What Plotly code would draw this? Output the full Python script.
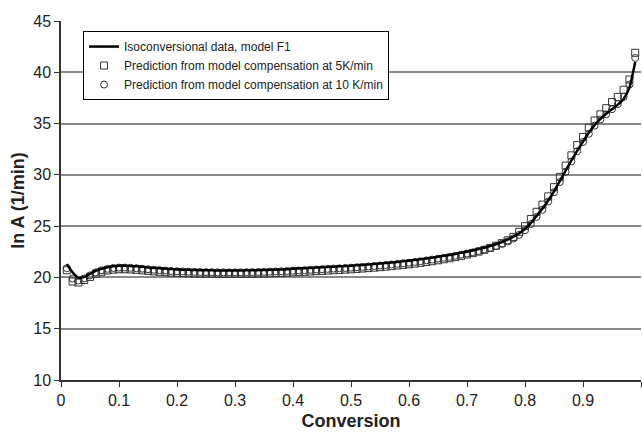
import plotly.graph_objects as go

conversion = [round(0.01 * i, 2) for i in range(1, 100)]

iso_f1 = [21.3, 20.5, 19.95, 20.05, 20.35, 20.65, 20.85, 21.0, 21.1, 21.15,
          21.15, 21.12, 21.08, 21.03, 20.98, 20.93, 20.89, 20.85, 20.81, 20.78,
          20.76, 20.74, 20.72, 20.71, 20.70, 20.69, 20.68, 20.68, 20.68, 20.68,
          20.68, 20.69, 20.70, 20.71, 20.72, 20.74, 20.76, 20.78, 20.80, 20.85,
          20.87, 20.9, 20.93, 20.96, 20.99, 21.02, 21.05, 21.08, 21.11, 21.14,
          21.18, 21.22, 21.26, 21.30, 21.35, 21.40, 21.45, 21.51, 21.57, 21.63,
          21.70, 21.77, 21.85, 21.93, 22.01, 22.10, 22.19, 22.29, 22.40, 22.51,
          22.63, 22.76, 22.90, 23.06, 23.24, 23.45, 23.69, 23.97, 24.30, 24.75,
          25.3, 26.0, 26.7, 27.5, 28.4, 29.4, 30.4, 31.4, 32.35, 33.25,
          34.1, 34.85, 35.45, 35.95, 36.4, 36.85, 37.4, 38.5, 41.0]

pred_5k = [20.7, 19.6, 19.5, 19.75, 20.05, 20.35, 20.55, 20.68, 20.76, 20.8,
           20.8, 20.78, 20.74, 20.69, 20.64, 20.59, 20.55, 20.51, 20.47, 20.44,
           20.42, 20.40, 20.38, 20.37, 20.36, 20.35, 20.34, 20.34, 20.34, 20.34,
           20.34, 20.35, 20.36, 20.37, 20.38, 20.40, 20.42, 20.44, 20.47, 20.50,
           20.52, 20.55, 20.58, 20.61, 20.64, 20.67, 20.70, 20.73, 20.76, 20.79,
           20.83, 20.87, 20.91, 20.95, 21.00, 21.05, 21.10, 21.16, 21.22, 21.28,
           21.35, 21.42, 21.50, 21.58, 21.67, 21.77, 21.87, 21.98, 22.10, 22.23,
           22.37, 22.52, 22.69, 22.88, 23.09, 23.34, 23.62, 23.95, 24.45, 25.0,
           25.7, 26.4, 27.1, 27.9, 28.8, 29.8, 30.9, 31.9, 32.9, 33.7,
           34.6, 35.3, 35.9, 36.5, 37.1, 37.6, 38.3, 39.3, 41.9]

pred_10k = [20.9, 19.9, 19.7, 19.9, 20.2, 20.5, 20.7, 20.84, 20.92, 20.96,
            20.96, 20.94, 20.9, 20.85, 20.8, 20.75, 20.71, 20.67, 20.63, 20.6,
            20.58, 20.56, 20.54, 20.53, 20.52, 20.51, 20.5, 20.5, 20.5, 20.5,
            20.5, 20.51, 20.52, 20.53, 20.54, 20.56, 20.58, 20.6, 20.63, 20.66,
            20.68, 20.71, 20.74, 20.77, 20.8, 20.83, 20.86, 20.89, 20.92, 20.95,
            20.99, 21.03, 21.07, 21.11, 21.16, 21.21, 21.26, 21.32, 21.38, 21.44,
            21.51, 21.58, 21.66, 21.74, 21.83, 21.92, 22.01, 22.11, 22.22, 22.33,
            22.45, 22.58, 22.72, 22.88, 23.06, 23.27, 23.51, 23.8, 24.15, 24.6,
            25.2, 25.9, 26.6, 27.4, 28.3, 29.3, 30.3, 31.3, 32.3, 33.2,
            34.0, 34.8, 35.4, 35.9, 36.4, 36.9, 37.6, 38.8, 41.4]

x_ticks = [0, 0.1, 0.2, 0.3, 0.4, 0.5, 0.6, 0.7, 0.8, 0.9, 1]
x_tick_labels = ["0", "0.1", "0.2", "0.3", "0.4", "0.5", "0.6", "0.7", "0.8", "0.9", "1"]
y_ticks = [10, 15, 20, 25, 30, 35, 40, 45]

fig = go.Figure()
fig.add_trace(go.Scatter(
    x=conversion, y=pred_5k, mode="markers",
    name="Prediction from model compensation at 5K/min",
    marker=dict(symbol="square-open", size=7, color="#333333", line=dict(width=1)),
    legendrank=2,
))
fig.add_trace(go.Scatter(
    x=conversion, y=pred_10k, mode="markers",
    name="Prediction from model compensation at 10 K/min",
    marker=dict(symbol="circle-open", size=7, color="#333333", line=dict(width=1)),
    legendrank=3,
))
fig.add_trace(go.Scatter(
    x=conversion, y=iso_f1, mode="lines",
    name="Isoconversional data, model F1",
    line=dict(color="black", width=2.5, shape="spline", smoothing=0.6),
    legendrank=1,
))

fig.update_layout(
    width=642, height=435,
    margin=dict(l=61, r=1, t=21, b=55),
    paper_bgcolor="white", plot_bgcolor="white",
    font=dict(family="Liberation Sans, Arial, sans-serif", color="#222222", size=16),
    showlegend=True,
    legend=dict(
        x=0.038, y=0.972, xanchor="left", yanchor="top",
        bgcolor="white", bordercolor="black", borderwidth=1,
        font=dict(size=12, color="#222222"),
        itemwidth=30, tracegroupgap=0,
        traceorder="normal",
    ),
)
fig.update_xaxes(
    range=[0, 1], tickvals=x_ticks, ticktext=x_tick_labels,
    showgrid=False, zeroline=False,
    showline=True, linecolor="#333333", linewidth=1.5,
    ticks="outside", ticklen=5, tickcolor="#333333",
    title=dict(text="<b>Conversion</b>", font=dict(size=18), standoff=6),
)
fig.update_yaxes(
    range=[10, 45], tickvals=y_ticks,
    showgrid=True, gridcolor="#8a8a8a", gridwidth=1.5, zeroline=False,
    showline=True, linecolor="#333333", linewidth=1.5,
    ticks="outside", ticklen=5, tickcolor="#333333",
    title=dict(text="<b>ln A (1/min)</b>", font=dict(size=18), standoff=4),
)

fig.write_html("out.html")
